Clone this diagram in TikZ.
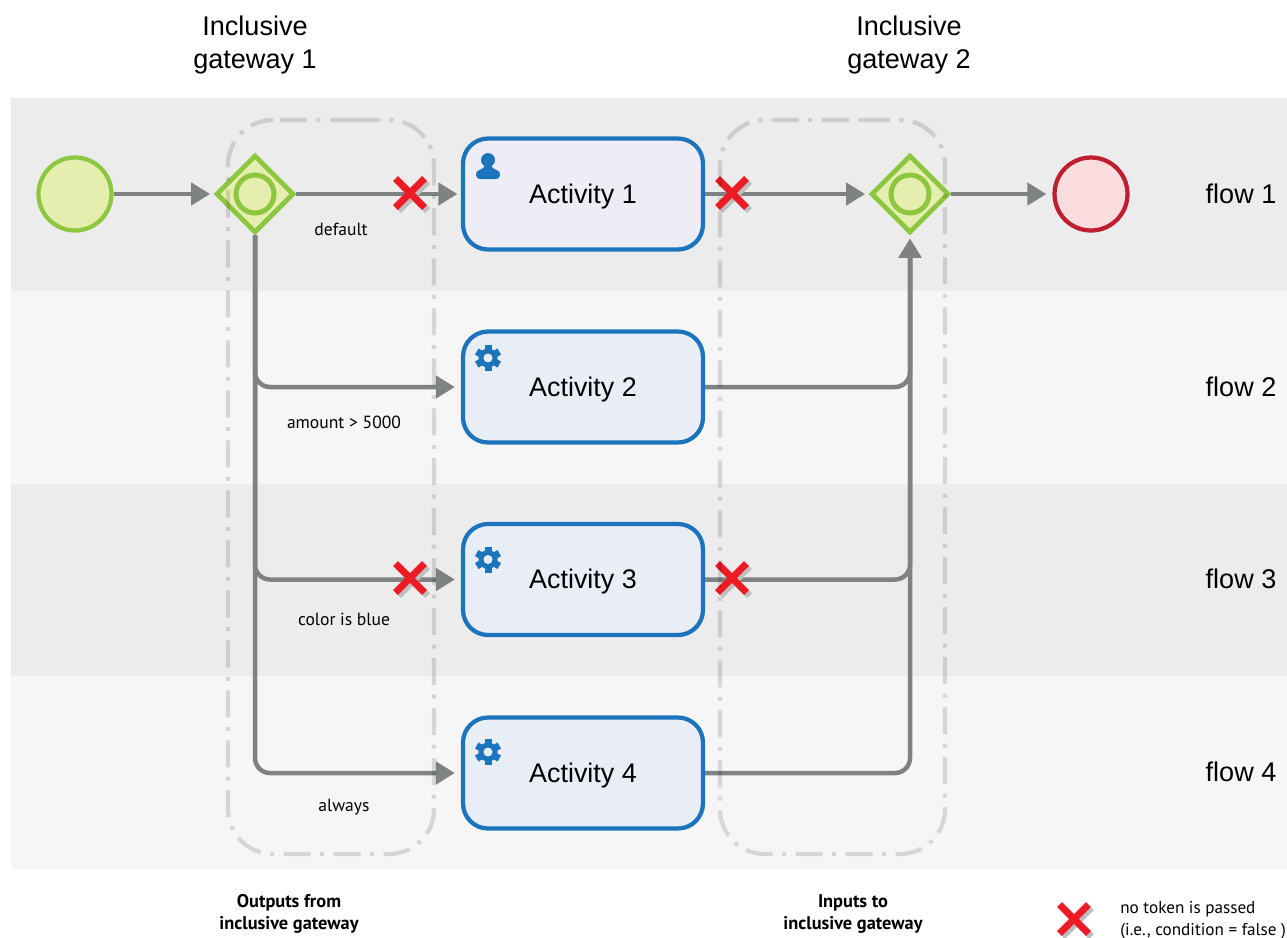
\documentclass[tikz,border=0pt]{standalone}
\usepackage{fontspec}
\setmainfont{Liberation Sans}
\newfontfamily\notefont{PT Sans}
\usepackage{tikz}
\usetikzlibrary{arrows.meta,shapes.geometric}

\definecolor{bandDark}{HTML}{ECECEC}
\definecolor{bandLight}{HTML}{F6F6F6}
\definecolor{groupGrey}{HTML}{DEDEDE}
\definecolor{flowGrey}{HTML}{7F8283}
\definecolor{gwGreen}{HTML}{8DC63F}
\definecolor{gwFill}{HTML}{E6EEAF}
\definecolor{endRed}{HTML}{BE1E2D}
\definecolor{endFill}{HTML}{FBDDE0}
\definecolor{actBlue}{HTML}{1C75BC}
\definecolor{actFillA}{HTML}{EEEDF6}
\definecolor{actFillB}{HTML}{E9EDF6}
\definecolor{crossRed}{HTML}{ED1C24}
\definecolor{crossShade}{HTML}{BCBEC0}

\tikzset{
  groupbox/.style={draw=groupGrey,blend mode=multiply,line width=.085cm,rounded corners=.9cm,dash pattern=on .54cm off .19cm on .08cm off .19cm},
  flow/.style={draw=flowGrey,line width=.09cm,-{Triangle[length=.38cm,width=.44cm]},shorten >=.07cm,rounded corners=.3cm},
  startev/.style={circle,draw=gwGreen,fill=gwFill,line width=.085cm,minimum size=1.46cm,inner sep=0pt},
  endev/.style={circle,draw=endRed,fill=endFill,line width=.085cm,minimum size=1.46cm,inner sep=0pt},
  gateway/.style={diamond,draw=gwGreen,fill=gwFill,line width=.095cm,minimum size=1.56cm,inner sep=0pt},
  gwdot/.style={circle,draw=gwGreen,line width=.1cm,minimum size=.76cm,inner sep=0pt},
  activity/.style={rectangle,draw=actBlue,line width=.085cm,rounded corners=.5cm,minimum width=4.8cm,minimum height=2.22cm,inner sep=0pt,text height=.48cm,text depth=.12cm,font=\fontsize{15.3}{18}\selectfont},
  bigtext/.style={align=center,font=\fontsize{15.4}{18.8}\selectfont},
  cond/.style={font=\notefont\fontsize{10}{12.5}\selectfont},
  caption/.style={align=center,font=\notefont\bfseries\fontsize{10.45}{12.5}\selectfont},
}

\begin{document}
\begin{tikzpicture}[x=.02cm,y=-.02cm]
\useasboundingbox (0,0) rectangle (1287,937);

% Lanes
\foreach \y/\c in {98/bandDark, 291/bandLight, 484/bandDark, 676/bandLight}
    \fill[\c] (11,\y) rectangle (1287,\y+193);

% Events and gateways
\node[startev] (start) at (75,194) {};
\node[gateway] (gw1) at (255,194) {};
\node[gwdot] (gw1dot) at (255,194) {};
\node[gateway] (gw2) at (910,194) {};
\node[gwdot] (gw2dot) at (910,194) {};
\node[endev] (end) at (1091,194) {};

% Activities
\node[activity,fill=actFillA] (act1) at (583,194) {Activity 1};
\foreach \n/\y in {2/387, 3/579.5, 4/773}
    \node[activity,fill=actFillB] (act\n) at (583,\y) {Activity \n};

% User icon
\fill[actBlue] (488,160) circle (.14cm);
\fill[actBlue] (476,175) .. controls (476,168) and (484,171) .. (485,165) -- (491,165)
    .. controls (492,171) and (500,168) .. (500,175)
    .. controls (500,178) and (498,179) .. (496,179) -- (480,179)
    .. controls (478,179) and (476,178) .. (476,175) -- cycle;

% Gear icons
\foreach \y in {358, 559.5, 752} {
    \fill[actBlue] (488,\y) circle (.19cm);
    \foreach \a in {30,90,...,330}
        \draw[actBlue,line width=.14cm] (488,\y) ++(\a:.15cm) -- ++(\a:.11cm);
    \fill[actFillB] (488,\y) circle (.09cm);
}

% Sequence flows
\draw[flow] (start) -- (gw1);
\draw[flow] (gw1) -- (act1);
\draw[flow] (act1) -- (gw2);
\draw[flow,shorten >=.12cm] (gw2) -- (end);
\foreach \n in {2,3,4} {
    \draw[flow,shorten >=.12cm] (gw1.south) |- (act\n.west);
    \draw[flow] (act\n.east) -| (gw2.south);
}

% Not passed marks
\foreach \x/\y in {410/193, 732/193, 410/578, 732/578, 1074/919} {
    \draw[crossShade,line width=.14cm] (\x-11.5,\y-11.5) -- (\x+17.5,\y+17.5);
    \draw[crossShade,line width=.14cm] (\x-11.5,\y+17.5) -- (\x+17.5,\y-11.5);
    \draw[crossRed,line width=.14cm] (\x-14.5,\y-14.5) -- (\x+14.5,\y+14.5);
    \draw[crossRed,line width=.14cm] (\x-14.5,\y+14.5) -- (\x+14.5,\y-14.5);
}

% Gateway groups
\draw[groupbox] (308,120) -| (434,854) -| (228,120) -- cycle;
\draw[groupbox] (818,120) -| (945,854) -| (720,120) -- cycle;

% Labels
\node[bigtext] (title1) at (255,45) {Inclusive\\gateway 1};
\node[bigtext] (title2) at (909,45) {Inclusive\\gateway 2};
\foreach \n/\y in {1/194, 2/387, 3/579, 4/772}
    \node[bigtext] (flow\n) at (1241,\y) {flow \n};
\node[cond] (cond1) at (341,229) {default};
\node[cond] (cond2) at (344,422) {amount > 5000};
\node[cond] (cond3) at (344,619) {color is blue};
\node[cond] (cond4) at (344,807) {always};
\node[caption] (capout) at (289,914) {Outputs from\\inclusive gateway};
\node[caption] (capin) at (853,914) {Inputs to\\inclusive gateway};
\node[align=left,anchor=west,inner sep=0pt,font=\notefont\fontsize{9.75}{12.5}\selectfont] (legend) at (1120,920) {no token is passed\\(i.e., condition = false )};
\end{tikzpicture}
\end{document}
